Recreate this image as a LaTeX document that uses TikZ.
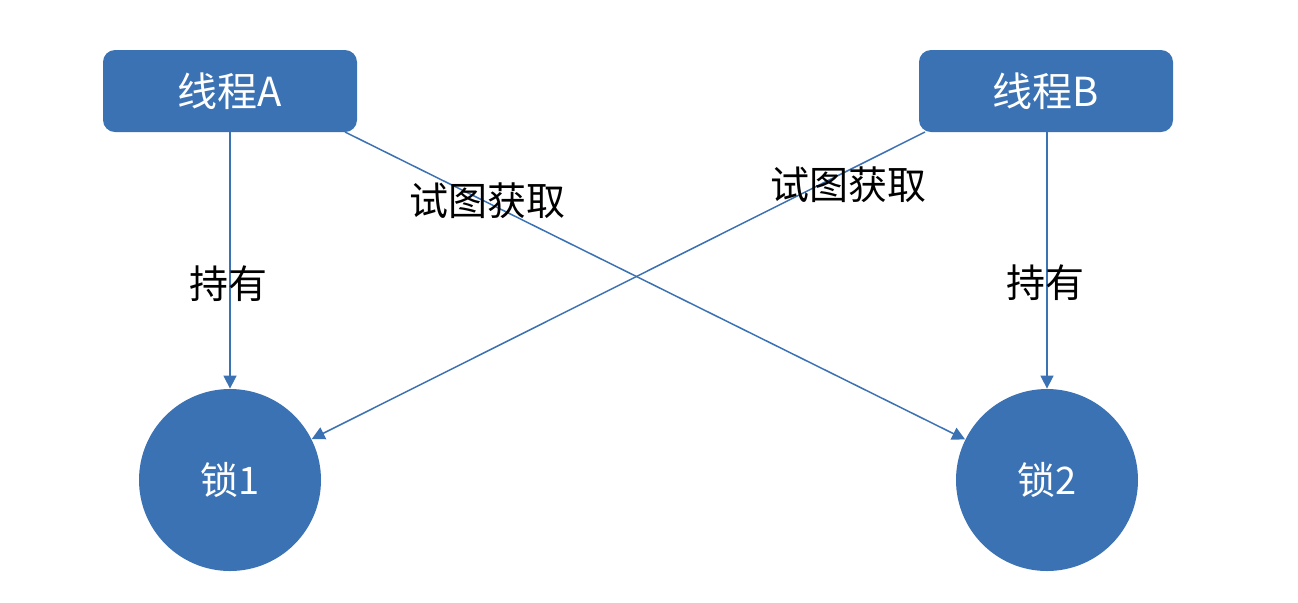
\documentclass[tikz,border=0pt]{standalone}
\usepackage{fontspec}
\setmainfont{Noto Sans CJK SC}
\usetikzlibrary{arrows.meta, positioning}
\definecolor{lockBlue}{RGB}{59,114,180}

\begin{document}
\begin{tikzpicture}[x=0.5pt, y=-0.5pt, >={Triangle[length=6.5pt, width=6.5pt]}]
    \useasboundingbox (0,0) rectangle (1298,602);

    % Threads
    \node[fill=lockBlue, rounded corners=6pt, minimum width=127pt, minimum height=41pt, text=white, font=\fontsize{20}{22}\selectfont] (TA) at (230,91) {线程A};
    \node[fill=lockBlue, rounded corners=6pt, minimum width=127pt, minimum height=41pt, text=white, font=\fontsize{20}{22}\selectfont] (TB) at (1046,91) {线程B};

    % Locks
    \node[circle, fill=lockBlue, minimum size=91pt, inner sep=0pt, text=white, font=\fontsize{19}{22}\selectfont] (L1) at (230,480) {锁1};
    \node[circle, fill=lockBlue, minimum size=91pt, inner sep=0pt, text=white, font=\fontsize{19}{22}\selectfont] (L2) at (1047,480) {锁2};

    \coordinate (TAc) at (345,132); % corner start
    \coordinate (TBc) at (925,132);

    % Arrows
    \draw[->, lockBlue, line width=0.75pt] (TA) -- (L1);
    \draw[->, lockBlue, line width=0.75pt] (TB.south -| L2) -- (L2);
    \draw[->, lockBlue, line width=0.75pt] (TAc) -- (L2);
    \draw[->, lockBlue, line width=0.75pt] (TBc) -- (L1);

    % Labels
    \node[font=\fontsize{19.5}{22}\selectfont] (hA) at (228,284) {持有};
    \node[font=\fontsize{19.5}{22}\selectfont] (hB) at (1045,283) {持有};
    \node[font=\fontsize{19.5}{22}\selectfont] (gA) at (487,201) {试图获取};
    \node[font=\fontsize{19.5}{22}\selectfont] (gB) at (848,185) {试图获取};
\end{tikzpicture}
\end{document}
